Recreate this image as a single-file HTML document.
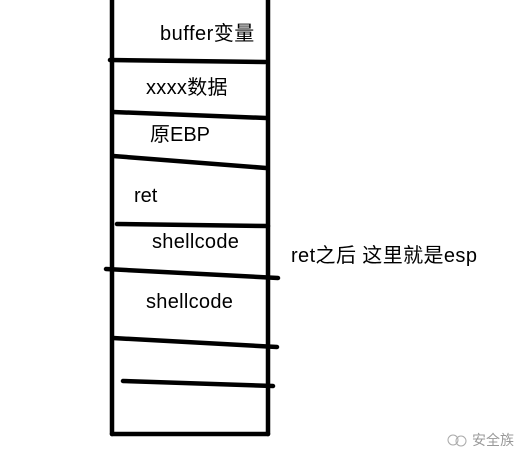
<!DOCTYPE html>
<html><head><style>
body{margin:0;background:#fff}
svg{display:block}
text{font-family:"Liberation Sans","Noto Sans CJK SC",sans-serif;font-size:20px;fill:#000}
</style></head><body>
<svg width="526" height="464" xmlns="http://www.w3.org/2000/svg">
<rect x="0" y="0" width="526" height="464" fill="#fff"/>
<g stroke="#000" stroke-width="4.5" stroke-linecap="round" fill="none">
<line x1="112" y1="0" x2="112" y2="434"/>
<line x1="268" y1="0" x2="268" y2="434"/>
<line x1="112" y1="434" x2="268" y2="434"/>
<line x1="110" y1="60" x2="265" y2="62"/>
<line x1="113" y1="112" x2="266" y2="118"/>
<line x1="113" y1="156" x2="266" y2="168"/>
<line x1="117" y1="224" x2="268" y2="226"/>
<line x1="106" y1="269" x2="278" y2="278"/>
<line x1="113" y1="338" x2="277" y2="347"/>
<line x1="123" y1="381" x2="273" y2="386"/>
</g>
<text x="160" y="40" letter-spacing="0.5">buffer变量</text>
<text x="146" y="94" letter-spacing="0.3">xxxx数据</text>
<text x="150" y="141">原EBP</text>
<text x="134" y="202">ret</text>
<text x="152" y="248" letter-spacing="0.3">shellcode</text>
<text x="291" y="262" letter-spacing="0.4">ret之后 这里就是esp</text>
<text x="146" y="308" letter-spacing="0.3">shellcode</text>
<circle cx="453" cy="440" r="5" fill="none" stroke="#aaa" stroke-width="1"/>
<circle cx="461" cy="441" r="5" fill="none" stroke="#aaa" stroke-width="1"/>
<text x="472" y="445" style="font-size:14px;fill:#999">安全族</text>
</svg>
</body></html>
